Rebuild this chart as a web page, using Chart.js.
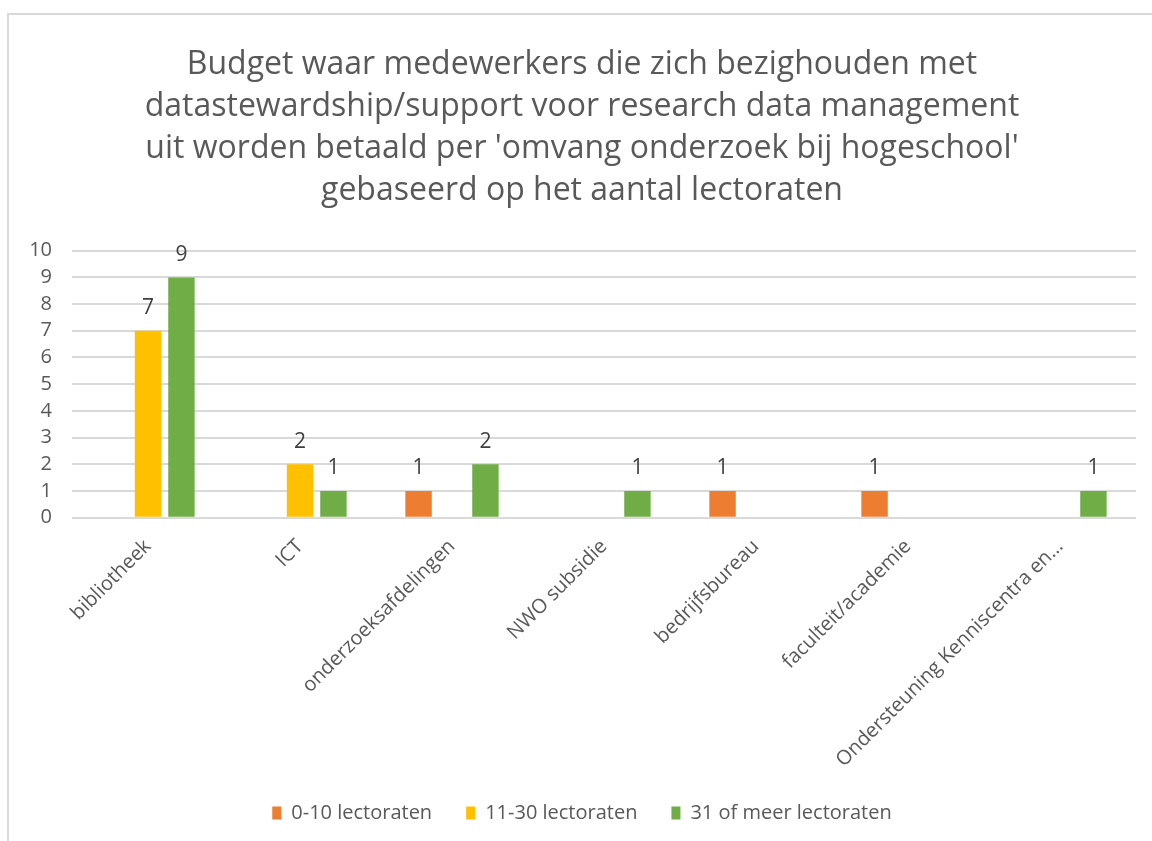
<!DOCTYPE html>
<html>
<head>
<meta charset="utf-8">
<script src="https://cdn.jsdelivr.net/npm/chart.js@4"></script>
<style>
  html, body { margin: 0; padding: 0; background: #fff; overflow: hidden; }
  #frame { position: absolute; left: 7px; top: 13px; width: 1200px; height: 900px;
           border-left: 2px solid #d9d9d9; border-top: 2px solid #d9d9d9; }
  #wrap { position: absolute; left: 0; top: 0; width: 1152px; height: 841px; }
</style>
</head>
<body>
<div id="frame"></div>
<div id="wrap"><canvas id="budgetChart"></canvas></div>
<script>
const categories = ['bibliotheek', 'ICT', 'onderzoeksafdelingen', 'NWO subsidie',
  'bedrijfsbureau', 'faculteit/academie', 'Ondersteuning Kenniscentra en…'];
const klein = [null, null, 1, null, 1, 1, null];     // 0-10 lectoraten
const middel = [7, 2, null, null, null, null, null]; // 11-30 lectoraten
const groot = [9, 1, 2, 1, null, null, 1];           // 31 of meer lectoraten
const titleLines = [
  'Budget waar medewerkers die zich bezighouden met',
  'datastewardship/support voor research data management',
  "uit worden betaald per 'omvang onderzoek bij hogeschool'",
  'gebaseerd op het aantal lectoraten'
];

const fontFam = '"Open Sans", "Noto Sans", sans-serif';

// draws the value above every bar
const valueLabels = {
  id: 'valueLabels',
  afterDatasetsDraw(chart) {
    const c = chart.ctx;
    c.save();
    c.font = '21px ' + fontFam;
    c.fillStyle = '#404040';
    c.textAlign = 'center';
    c.textBaseline = 'bottom';
    chart.data.datasets.forEach((ds, i) => {
      chart.getDatasetMeta(i).data.forEach((bar, j) => {
        if (ds.data[j] == null) return;
        c.fillText(ds.data[j], bar.x, bar.y - 12);
      });
    });
    c.restore();
  }
};

const ctx = document.getElementById('budgetChart');

new Chart(ctx, {
  type: 'bar',
  data: {
    labels: categories,
    datasets: [
      { label: '0-10 lectoraten', data: klein, backgroundColor: '#ED7D31' },
      { label: '11-30 lectoraten', data: middel, backgroundColor: '#FFC000' },
      { label: '31 of meer lectoraten', data: groot, backgroundColor: '#70AD47' }
    ]
  },
  options: {
    responsive: true,
    maintainAspectRatio: false,
    animation: false,
    barPercentage: 0.79,
    categoryPercentage: 0.66,
    layout: { padding: { left: 28, right: 16, top: 0, bottom: 8 } },
    plugins: {
      title: {
        display: true,
        text: titleLines,
        color: '#595959',
        font: { family: fontFam, size: 32, weight: 'normal', lineHeight: 1.31 },
        padding: { top: 44, bottom: 39 }
      },
      legend: {
        position: 'bottom',
        labels: {
          color: '#595959',
          font: { family: fontFam, size: 20 },
          boxWidth: 9,
          boxHeight: 13,
          padding: 34
        }
      },
      tooltip: { enabled: false }
    },
    scales: {
      x: {
        afterFit(scale) { scale.height = scale.height - 12; },
        grid: { display: false },
        border: { display: false },
        ticks: {
          color: '#595959',
          font: { family: fontFam, size: 20 },
          maxRotation: 45,
          minRotation: 45,
          padding: 9
        }
      },
      y: {
        min: 0,
        max: 10,
        afterFit(scale) { scale.width = 44; },
        grid: { color: '#d9d9d9', lineWidth: 2, drawTicks: false },
        border: { display: false },
        ticks: {
          stepSize: 1,
          autoSkip: false,
          color: '#595959',
          font: { family: fontFam, size: 20 },
          padding: 20
        }
      }
    }
  },
  plugins: [valueLabels]
});
</script>
</body>
</html>
